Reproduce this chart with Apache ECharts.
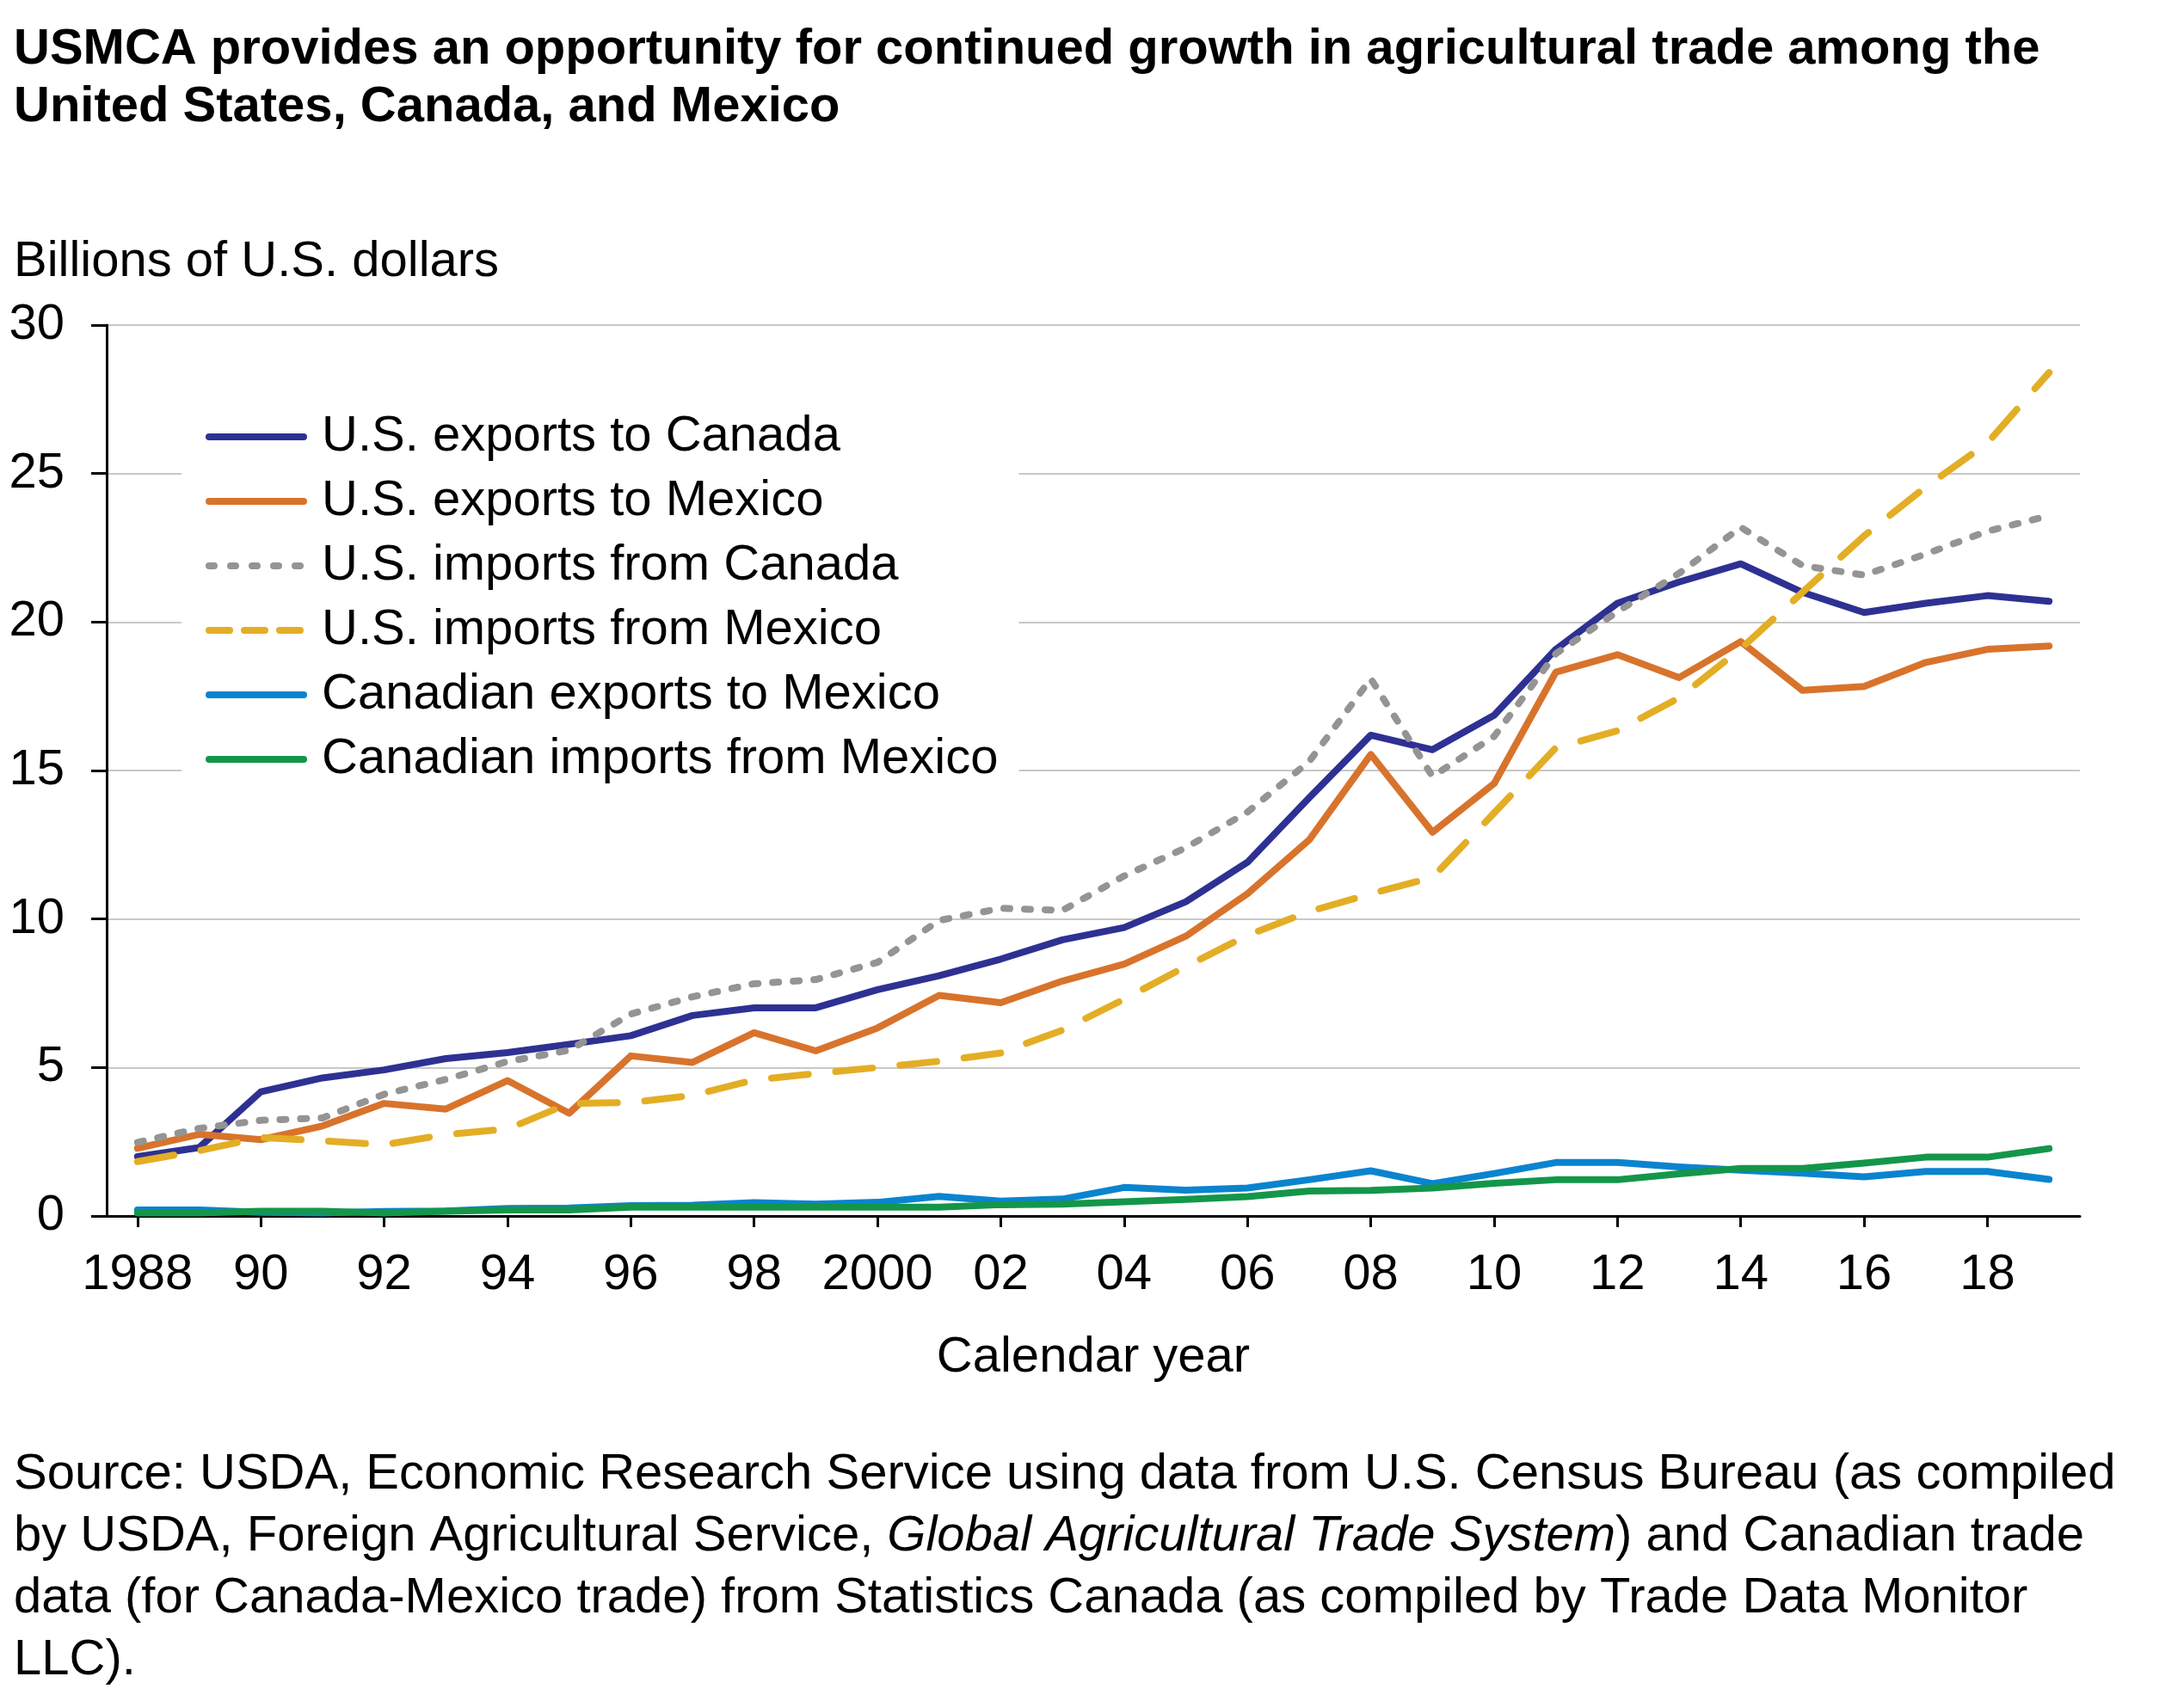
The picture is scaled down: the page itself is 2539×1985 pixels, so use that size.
<!DOCTYPE html>
<html>
<head>
<meta charset="utf-8">
<script src="https://cdn.jsdelivr.net/npm/echarts@6/dist/echarts.min.js"></script>
<style>
html,body{margin:0;padding:0;background:#fff;}
#chart{width:2539px;height:1985px;}
</style>
</head>
<body>
<div id="chart"></div>
<script>
const years = ['1988','1989','1990','1991','1992','1993','1994','1995','1996','1997','1998','1999','2000','2001','2002','2003','2004','2005','2006','2007','2008','2009','2010','2011','2012','2013','2014','2015','2016','2017','2018','2019'];
const yearLabels = ['1988','89','90','91','92','93','94','95','96','97','98','99','2000','01','02','03','04','05','06','07','08','09','10','11','12','13','14','15','16','17','18','19'];
const usExportsCanada = [2.0, 2.3, 4.18, 4.65, 4.92, 5.3, 5.5, 5.78, 6.07, 6.75, 7.01, 7.01, 7.62, 8.09, 8.65, 9.3, 9.71, 10.58, 11.91, 14.08, 16.19, 15.7, 16.86, 19.08, 20.63, 21.35, 21.96, 21.0, 20.32, 20.63, 20.89, 20.7];
const usExportsMexico = [2.28, 2.75, 2.57, 3.03, 3.79, 3.6, 4.56, 3.46, 5.39, 5.17, 6.17, 5.56, 6.33, 7.43, 7.18, 7.91, 8.48, 9.42, 10.85, 12.66, 15.54, 12.92, 14.56, 18.31, 18.9, 18.13, 19.34, 17.7, 17.83, 18.64, 19.08, 19.19];
const usImportsCanada = [2.48, 2.95, 3.22, 3.3, 4.1, 4.6, 5.2, 5.58, 6.8, 7.38, 7.82, 7.96, 8.54, 9.95, 10.36, 10.29, 11.45, 12.4, 13.6, 15.3, 18.09, 14.8, 16.15, 18.93, 20.35, 21.64, 23.19, 21.9, 21.58, 22.29, 23.06, 23.58];
const usImportsMexico = [1.83, 2.2, 2.64, 2.53, 2.4, 2.74, 2.93, 3.79, 3.82, 4.06, 4.58, 4.8, 5.0, 5.21, 5.49, 6.26, 7.3, 8.4, 9.45, 10.25, 10.85, 11.4, 13.57, 15.76, 16.34, 17.45, 19.1, 21.0, 22.9, 24.55, 26.03, 28.4];
const canExportsMexico = [0.2, 0.2, 0.12, 0.1, 0.15, 0.17, 0.25, 0.27, 0.35, 0.36, 0.45, 0.4, 0.46, 0.66, 0.5, 0.57, 0.96, 0.87, 0.94, 1.22, 1.52, 1.09, 1.43, 1.8, 1.8, 1.65, 1.54, 1.44, 1.32, 1.5, 1.5, 1.23];
const canImportsMexico = [0.1, 0.1, 0.16, 0.16, 0.1, 0.16, 0.2, 0.2, 0.3, 0.3, 0.3, 0.3, 0.3, 0.3, 0.38, 0.4, 0.48, 0.56, 0.65, 0.84, 0.86, 0.94, 1.1, 1.22, 1.22, 1.42, 1.6, 1.6, 1.78, 1.98, 1.98, 2.27];
const seriesNames = ['U.S. exports to Canada','U.S. exports to Mexico','U.S. imports from Canada','U.S. imports from Mexico','Canadian exports to Mexico','Canadian imports from Mexico'];
const seriesColors = ['#2E3192','#D8732C','#949494','#E3AE25','#0A84CF','#14964A'];

const FONT = '"Liberation Sans", Arial, Helvetica, sans-serif';
const FS = 58;
const chart = echarts.init(document.getElementById('chart'));

const dataSets = [usExportsCanada, usExportsMexico, usImportsCanada, usImportsMexico, canExportsMexico, canImportsMexico];
const lineTypes = ['solid','solid',[7,17],[43,32],'solid','solid'];
const legendTypes = ['solid','solid',[6,19],[24,17],'solid','solid'];

const series = dataSets.map((d, i) => ({
  name: seriesNames[i],
  type: 'line',
  data: d,
  symbol: 'none',
  silent: true,
  animation: false,
  lineStyle: { color: seriesColors[i], width: 8, type: lineTypes[i], cap: 'round', join: 'round' },
  itemStyle: { color: seriesColors[i] }
}));

chart.setOption({
  backgroundColor: '#ffffff',
  animation: false,
  title: [
    {
      text: 'USMCA provides an opportunity for continued growth in agricultural trade among the\nUnited States, Canada, and Mexico',
      left: 11, top: 19,
      textStyle: { fontFamily: FONT, fontSize: FS, fontWeight: 'bold', color: '#000', lineHeight: 67 }
    },
    {
      text: 'Billions of U.S. dollars',
      left: 11, top: 271,
      textStyle: { fontFamily: FONT, fontSize: FS, fontWeight: 'normal', color: '#000' }
    },
    {
      text: 'Source: USDA, Economic Research Service using data from U.S. Census Bureau (as compiled\nby USDA, Foreign Agricultural Service, {i|Global Agricultural Trade System}) and Canadian trade\ndata (for Canada-Mexico trade) from Statistics Canada (as compiled by Trade Data Monitor\nLLC).',
      left: 11, top: 1674,
      textStyle: {
        fontFamily: FONT, fontSize: FS, fontWeight: 'normal', color: '#000', lineHeight: 72,
        rich: { i: { fontFamily: FONT, fontSize: FS, fontStyle: 'italic', color: '#000', lineHeight: 72 } }
      }
    }
  ],
  grid: { left: 124, right: 121, top: 378, bottom: 571, containLabel: false },
  legend: {
    orient: 'vertical',
    left: 211, top: 466,
    backgroundColor: '#ffffff',
    padding: [12, 24, 12, 28],
    itemWidth: 110,
    itemHeight: 20,
    itemGap: 15,
    selectedMode: false,
    itemStyle: { opacity: 0 },
    textStyle: { fontFamily: FONT, fontSize: FS, color: '#000', lineHeight: 60, padding: [0, 0, 0, 16] },
    data: seriesNames.map((n, i) => ({
      name: n,
      itemStyle: { opacity: 0 },
      lineStyle: { color: seriesColors[i], width: 8, type: legendTypes[i], cap: 'round' }
    }))
  },
  xAxis: {
    type: 'category',
    data: years,
    boundaryGap: true,
    name: 'Calendar year',
    nameLocation: 'middle',
    nameGap: 136,
    nameTextStyle: { fontFamily: FONT, fontSize: FS, color: '#000' },
    axisLine: { show: true, lineStyle: { color: '#000', width: 3 } },
    axisTick: { show: true, interval: 1, alignWithLabel: true, length: 13, lineStyle: { color: '#000', width: 3 } },
    axisLabel: {
      interval: 1, margin: 40,
      fontFamily: FONT, fontSize: FS, color: '#000',
      formatter: (v, idx) => yearLabels[idx]
    },
    splitLine: { show: false }
  },
  yAxis: {
    type: 'value',
    min: 0, max: 30, interval: 5,
    axisLine: { show: true, lineStyle: { color: '#000', width: 3 } },
    axisTick: { show: true, inside: false, length: 18, lineStyle: { color: '#000', width: 3 } },
    axisLabel: { margin: 49, fontFamily: FONT, fontSize: FS, color: '#000' },
    splitLine: { show: true, lineStyle: { color: '#C8C8C8', width: 2 } }
  },
  series: series
});
</script>
</body>
</html>
